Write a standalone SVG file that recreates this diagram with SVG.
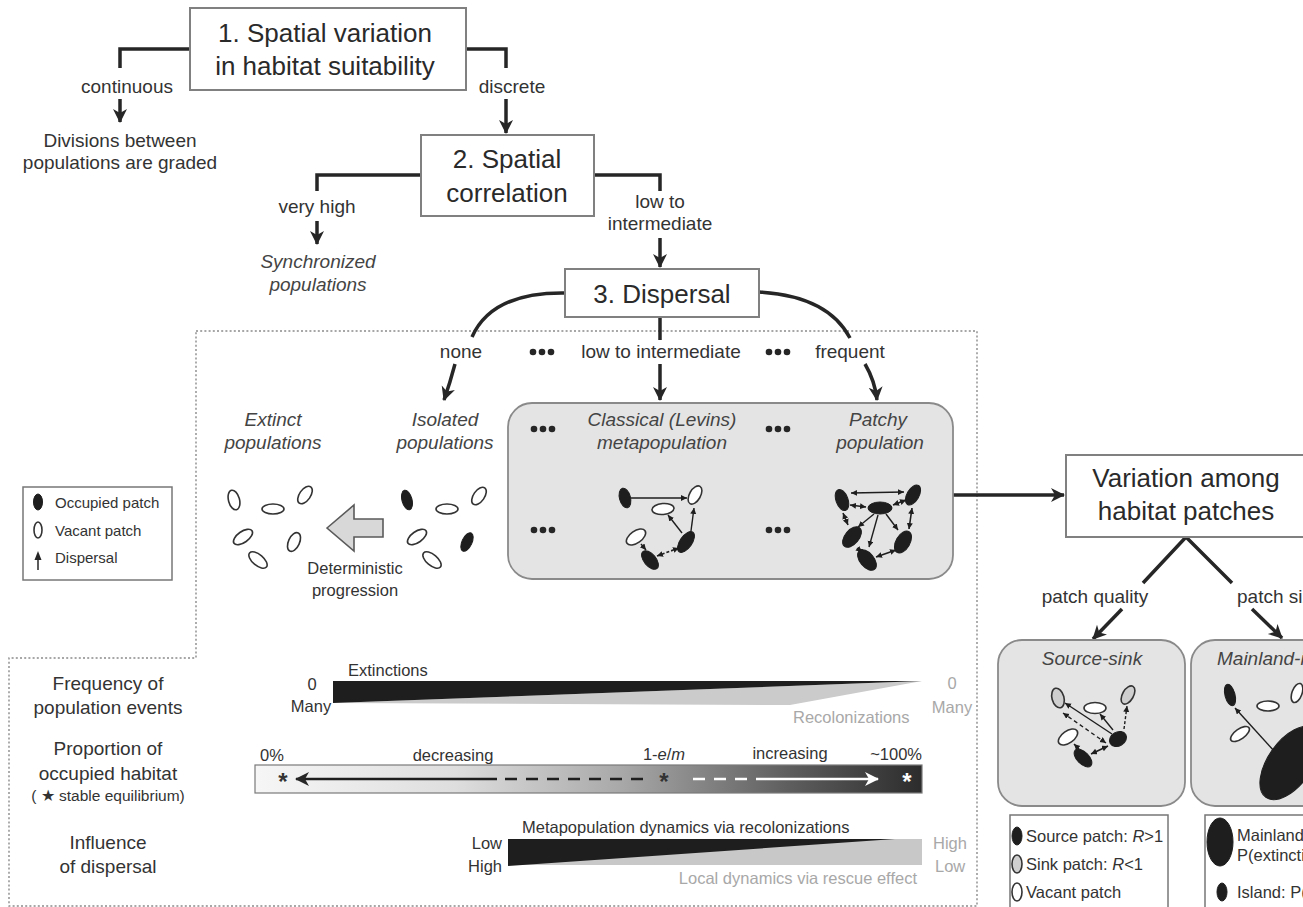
<svg xmlns="http://www.w3.org/2000/svg" width="1303" height="907" viewBox="0 0 1303 907">
  <defs>
    <marker id="ah" markerUnits="userSpaceOnUse" markerWidth="16" markerHeight="16" refX="13" refY="7" orient="auto">
      <path d="M0,0 L14,7 L0,14 L4,7 z" fill="#262626"/>
    </marker>
    <marker id="sm" markerUnits="userSpaceOnUse" markerWidth="8" markerHeight="8" refX="6" refY="3" orient="auto-start-reverse">
      <path d="M0,0 L6,3 L0,6 z" fill="#1e1e1e"/>
    </marker>
    <marker id="wh" markerUnits="userSpaceOnUse" markerWidth="16" markerHeight="16" refX="13" refY="7" orient="auto">
      <path d="M0,0 L14,7 L0,14 L4,7 z" fill="#ffffff"/>
    </marker>
    <linearGradient id="occ" x1="0" y1="0" x2="1" y2="0">
      <stop offset="0" stop-color="#f6f6f6"/>
      <stop offset="0.3" stop-color="#dedede"/>
      <stop offset="0.55" stop-color="#a8a8a8"/>
      <stop offset="0.8" stop-color="#5e5e5e"/>
      <stop offset="1" stop-color="#2c2c2c"/>
    </linearGradient>
  </defs>
  <style>
    text { font-family: "Liberation Sans", Arial, sans-serif; fill: #333; }
    .t26 { font-size: 26px; text-anchor: middle; fill: #2a2a2a; }
    .lab { font-size: 19px; text-anchor: middle; }
    .it { font-size: 19px; font-style: italic; text-anchor: middle; fill: #444; }
    .sm { font-size: 15px; }
    .bar { font-size: 16.5px; }
    .pale { fill: #a8a8a8; }
    .box { fill: #fff; stroke: #808080; stroke-width: 2; }
    .gbox { fill: #e4e4e4; stroke: #8a8a8a; stroke-width: 1.8; }
    .leg { fill: #fff; stroke: #777; stroke-width: 1.5; }
    .conn { fill: none; stroke: #262626; stroke-width: 3.5; }
    .arr { fill: none; stroke: #262626; stroke-width: 3.5; marker-end: url(#ah); }
    .dot { fill: none; stroke: #8a8a8a; stroke-width: 1.4; stroke-dasharray: 2 2.2; }
    .full { fill: #1e1e1e; stroke: #1e1e1e; stroke-width: 1; }
    .open { fill: #fff; stroke: #333; stroke-width: 1.6; }
    .sink { fill: #cfcfcf; stroke: #333; stroke-width: 1.6; }
    .thin { fill: none; stroke: #1e1e1e; stroke-width: 1.4; marker-end: url(#sm); }
    .both { fill: none; stroke: #1e1e1e; stroke-width: 1.6; marker-start: url(#sm); marker-end: url(#sm); }
    .dots circle { fill: #262626; }
  </style>

  <!-- dotted frame around the dispersal section -->
  <path class="dot" d="M196,331 H977 V906 H9 V658 H196 Z"/>

  <!-- connectors -->
  <g id="connectors">
    <path class="conn" d="M190,49 H120 V68"/>
    <path class="arr" d="M120,99 V122"/>
    <path class="conn" d="M466,49 H506 V68"/>
    <path class="arr" d="M506,99 V133"/>
    <path class="conn" d="M421,175 H317 V191"/>
    <path class="arr" d="M317,221 V244"/>
    <path class="conn" d="M594,175 H660 V191"/>
    <path class="arr" d="M660,238 V267"/>
    <path class="conn" d="M565,293 Q492,292 472,337"/>
    <path class="arr" d="M455,364 Q450,383 444,400"/>
    <path class="conn" d="M660,317 V340"/>
    <path class="arr" d="M660,364 V400"/>
    <path class="conn" d="M759,292 Q828,296 850,338"/>
    <path class="arr" d="M865,364 Q875,381 877,400"/>
    <path class="arr" d="M953,495 H1064"/>
    <path class="conn" d="M1143,583 L1186,537 L1232,583"/>
    <path class="arr" d="M1122,609 L1093,639"/>
    <path class="arr" d="M1252,609 L1282,638"/>
  </g>

  <!-- edge labels -->
  <g id="edge-labels">
    <text class="lab" x="127" y="93">continuous</text>
    <text class="lab" x="512" y="93">discrete</text>
    <text class="lab" x="317" y="213">very high</text>
    <text class="lab" x="660" y="208">low to</text>
    <text class="lab" x="660" y="230">intermediate</text>
    <text class="lab" x="461" y="358">none</text>
    <text class="lab" x="661" y="358">low to intermediate</text>
    <text class="lab" x="850" y="358">frequent</text>
    <text class="lab" x="1095" y="603">patch quality</text>
    <text class="lab" x="1237" y="603" style="text-anchor:start">patch size</text>
    <g class="dots">
      <circle cx="533" cy="352" r="3.3"/><circle cx="542" cy="352" r="3.3"/><circle cx="551" cy="352" r="3.3"/>
      <circle cx="769" cy="352" r="3.3"/><circle cx="778" cy="352" r="3.3"/><circle cx="787" cy="352" r="3.3"/>
    </g>
  </g>

  <g id="node-spatial-variation">
    <rect class="box" x="190" y="8" width="276" height="82"/>
    <text class="t26" x="325" y="42">1. Spatial variation</text>
    <text class="t26" x="325" y="75">in habitat suitability</text>
  </g>

  <g id="node-graded">
    <text class="lab" x="120" y="147">Divisions between</text>
    <text class="lab" x="120" y="169">populations are graded</text>
  </g>

  <g id="node-spatial-correlation">
    <rect class="box" x="421" y="135" width="173" height="81"/>
    <text class="t26" x="507" y="168">2. Spatial</text>
    <text class="t26" x="507" y="202">correlation</text>
  </g>

  <g id="node-synchronized">
    <text class="it" x="318" y="268">Synchronized</text>
    <text class="it" x="318" y="291">populations</text>
  </g>

  <g id="node-dispersal">
    <rect class="box" x="565" y="269" width="194" height="48"/>
    <text class="t26" x="662" y="303">3. Dispersal</text>
  </g>

  <!-- legend for the patch symbols -->
  <g id="node-legend">
    <rect class="leg" x="23" y="487" width="149" height="93"/>
    <ellipse class="full" cx="38" cy="502" rx="4.5" ry="8"/>
    <text class="sm" x="55" y="508">Occupied patch</text>
    <ellipse class="open" cx="38" cy="530" rx="4" ry="8"/>
    <text class="sm" x="55" y="536">Vacant patch</text>
    <path d="M38,570 V557" stroke="#262626" stroke-width="1.5"/>
    <path d="M34.5,560 L38,551 L41.5,560 z" fill="#262626"/>
    <text class="sm" x="55" y="563">Dispersal</text>
  </g>

  <g id="node-extinct">
    <text class="it" x="273" y="426">Extinct</text>
    <text class="it" x="273" y="449">populations</text>
    <ellipse class="open" cx="234" cy="500" rx="5.5" ry="10" transform="rotate(-15 234 500)"/>
    <ellipse class="open" cx="273" cy="509" rx="11" ry="5"/>
    <ellipse class="open" cx="305" cy="495" rx="5.5" ry="10" transform="rotate(35 305 495)"/>
    <ellipse class="open" cx="243" cy="537" rx="11" ry="5.5" transform="rotate(-35 243 537)"/>
    <ellipse class="open" cx="294" cy="542" rx="5.5" ry="10" transform="rotate(25 294 542)"/>
    <ellipse class="open" cx="258" cy="560" rx="11" ry="5.5" transform="rotate(40 258 560)"/>
  </g>

  <g id="node-progression">
    <path d="M327,528 L354,505 L354,519 L383,519 L383,537 L354,537 L354,551 Z" fill="#d8d8d8" stroke="#5a5a5a" stroke-width="1.6"/>
    <text class="lab" x="355" y="574" style="font-size:16.5px">Deterministic</text>
    <text class="lab" x="355" y="596" style="font-size:16.5px">progression</text>
  </g>

  <g id="node-isolated">
    <text class="it" x="445" y="426">Isolated</text>
    <text class="it" x="445" y="449">populations</text>
    <ellipse class="full" cx="407" cy="500" rx="5" ry="10" transform="rotate(-15 407 500)"/>
    <ellipse class="open" cx="447" cy="509" rx="11" ry="5"/>
    <ellipse class="open" cx="479" cy="496" rx="5.5" ry="10" transform="rotate(35 479 496)"/>
    <ellipse class="open" cx="417" cy="537" rx="11" ry="5.5" transform="rotate(-35 417 537)"/>
    <ellipse class="full" cx="467" cy="542" rx="5" ry="10" transform="rotate(25 467 542)"/>
    <ellipse class="open" cx="432" cy="560" rx="11" ry="5.5" transform="rotate(40 432 560)"/>
  </g>

  <!-- classical and patchy structures share one shaded panel -->
  <g id="node-metapopulations">
    <rect class="gbox" x="508" y="403" width="445" height="176" rx="24"/>
    <g class="dots">
      <circle cx="534" cy="429" r="3.3"/><circle cx="543" cy="429" r="3.3"/><circle cx="552" cy="429" r="3.3"/>
      <circle cx="769" cy="429" r="3.3"/><circle cx="778" cy="429" r="3.3"/><circle cx="787" cy="429" r="3.3"/>
      <circle cx="534" cy="530" r="3.3"/><circle cx="543" cy="530" r="3.3"/><circle cx="552" cy="530" r="3.3"/>
      <circle cx="769" cy="530" r="3.3"/><circle cx="778" cy="530" r="3.3"/><circle cx="787" cy="530" r="3.3"/>
    </g>
    <text class="it" x="662" y="426">Classical (Levins)</text>
    <text class="it" x="662" y="449">metapopulation</text>
    <text class="it" x="878" y="426">Patchy</text>
    <text class="it" x="880" y="449">population</text>

    <!-- classical network -->
    <path class="thin" d="M631,498 H687"/>
    <path class="thin" d="M691,531 L694,508"/>
    <path class="thin" d="M682,533 L668,515"/>
    <path class="both" d="M657,556 L679,548" stroke-dasharray="3 2"/>
    <path class="thin" d="M641,544 L646,550"/>
    <ellipse class="full" cx="625" cy="498" rx="5.5" ry="10" transform="rotate(-15 625 498)"/>
    <ellipse class="open" cx="695" cy="495" rx="5.5" ry="10" transform="rotate(30 695 495)"/>
    <ellipse class="open" cx="663" cy="509" rx="11" ry="5.5" transform="rotate(-5 663 509)"/>
    <ellipse class="open" cx="636" cy="537" rx="11" ry="6" transform="rotate(-35 636 537)"/>
    <ellipse class="full" cx="686" cy="542" rx="6" ry="12" transform="rotate(35 686 542)"/>
    <ellipse class="full" cx="650" cy="560" rx="6" ry="11" transform="rotate(-40 650 560)"/>

    <!-- patchy network -->
    <path class="both" d="M851,493 L904,492"/>
    <path class="both" d="M850,505 L866,507"/>
    <path class="both" d="M893,505 L906,500"/>
    <path class="both" d="M843,513 L848,525"/>
    <path class="both" d="M912,508 L909,529"/>
    <path class="thin" d="M874,514 L858,527"/>
    <path class="thin" d="M878,515 L869,547"/>
    <path class="thin" d="M886,514 L898,530"/>
    <path class="both" d="M857,548 L862,552"/>
    <path class="both" d="M876,557 L896,550"/>
    <ellipse class="full" cx="842" cy="500" rx="6" ry="11" transform="rotate(-20 842 500)"/>
    <ellipse class="full" cx="913" cy="495" rx="6" ry="11" transform="rotate(30 913 495)"/>
    <ellipse class="full" cx="880" cy="508" rx="12" ry="6"/>
    <ellipse class="full" cx="852" cy="537" rx="7" ry="12" transform="rotate(40 852 537)"/>
    <ellipse class="full" cx="903" cy="542" rx="7" ry="12" transform="rotate(30 903 542)"/>
    <ellipse class="full" cx="867" cy="560" rx="7" ry="12" transform="rotate(-40 867 560)"/>
  </g>

  <g id="node-variation">
    <rect class="box" x="1066" y="455" width="260" height="82"/>
    <text class="t26" x="1186" y="487">Variation among</text>
    <text class="t26" x="1186" y="520">habitat patches</text>
  </g>

  <g id="node-source-sink">
    <rect class="gbox" x="998" y="640" width="187" height="166" rx="24"/>
    <text class="it" x="1092" y="665">Source-sink</text>
    <path class="thin" d="M1112,734 L1065,703"/>
    <path class="thin" d="M1106,743 L1063,713" stroke-dasharray="4 3" marker-end="none" marker-start="url(#sm)"/>
    <path class="thin" d="M1113,730 L1100,714"/>
    <path class="thin" d="M1124,729 L1127,706" stroke-dasharray="3 2"/>
    <path class="both" d="M1108,746 L1091,754"/>
    <path class="thin" d="M1079,749 L1074,744"/>
    <ellipse class="sink" cx="1058" cy="698" rx="6" ry="10" transform="rotate(-15 1058 698)"/>
    <ellipse class="open" cx="1095" cy="708" rx="11" ry="5.5"/>
    <ellipse class="sink" cx="1128" cy="695" rx="5.5" ry="10" transform="rotate(30 1128 695)"/>
    <ellipse class="open" cx="1068" cy="737" rx="11" ry="6" transform="rotate(-35 1068 737)"/>
    <ellipse class="full" cx="1118" cy="739" rx="9" ry="7" transform="rotate(-30 1118 739)"/>
    <ellipse class="full" cx="1083" cy="758" rx="6" ry="11" transform="rotate(-45 1083 758)"/>
  </g>

  <g id="node-source-legend">
    <rect class="leg" x="1010" y="815" width="158" height="100"/>
    <ellipse class="full" cx="1017" cy="836" rx="5" ry="9"/>
    <text class="bar" x="1026" y="842">Source patch: <tspan font-style="italic">R</tspan>&gt;1</text>
    <ellipse class="sink" cx="1017" cy="864" rx="5" ry="9"/>
    <text class="bar" x="1026" y="870">Sink patch: <tspan font-style="italic">R</tspan>&lt;1</text>
    <ellipse class="open" cx="1017" cy="892" rx="5" ry="9"/>
    <text class="bar" x="1026" y="898">Vacant patch</text>
  </g>

  <g id="node-mainland-island">
    <rect class="gbox" x="1191" y="640" width="160" height="166" rx="24"/>
    <text class="it" x="1217" y="665" style="text-anchor:start">Mainland-island</text>
    <path class="thin" d="M1275,752 L1235,708"/>
    <ellipse class="full" cx="1230" cy="695" rx="5" ry="11" transform="rotate(-15 1230 695)"/>
    <ellipse class="open" cx="1268" cy="706" rx="11" ry="5"/>
    <ellipse class="open" cx="1240" cy="734" rx="11" ry="5" transform="rotate(-35 1240 734)"/>
    <ellipse class="open" cx="1297" cy="693" rx="5" ry="10" transform="rotate(20 1297 693)"/>
    <ellipse class="full" cx="1290" cy="763" rx="22" ry="42" transform="rotate(35 1290 763)"/>
  </g>

  <g id="node-mainland-legend">
    <rect class="leg" x="1205" y="815" width="140" height="100"/>
    <ellipse class="full" cx="1220" cy="842" rx="13" ry="24"/>
    <text class="bar" x="1237" y="841">Mainland:</text>
    <text class="bar" x="1237" y="861">P(extinction)</text>
    <ellipse class="full" cx="1222" cy="892" rx="5" ry="9"/>
    <text class="bar" x="1237" y="898">Island: P(extinction)</text>
  </g>

  <!-- row: frequency of population events -->
  <g id="row-frequency">
    <text class="lab" x="108" y="690">Frequency of</text>
    <text class="lab" x="108" y="714">population events</text>
    <polygon points="333,703 922,681 790,705" fill="#cbcbcb"/>
    <polygon points="333,681 922,681 333,703" fill="#1e1e1e"/>
    <text class="bar" x="348" y="676">Extinctions</text>
    <text class="bar" x="312" y="690" text-anchor="middle">0</text>
    <text class="bar" x="311" y="712" text-anchor="middle">Many</text>
    <text class="bar pale" x="952" y="689" text-anchor="middle">0</text>
    <text class="bar pale" x="952" y="713" text-anchor="middle">Many</text>
    <text class="bar pale" x="793" y="723">Recolonizations</text>
  </g>

  <!-- row: proportion of occupied habitat -->
  <g id="row-occupancy">
    <text class="lab" x="108" y="755">Proportion of</text>
    <text class="lab" x="108" y="780">occupied habitat</text>
    <text class="lab" x="108" y="801" style="font-size:15.5px">( ★ stable equilibrium)</text>
    <rect x="255" y="765" width="667" height="28" fill="url(#occ)" stroke="#7a7a7a" stroke-width="1.2"/>
    <path d="M497,779 H296" stroke="#1e1e1e" stroke-width="2.5" fill="none" marker-end="url(#ah)"/>
    <path d="M505,779 H646" stroke="#1e1e1e" stroke-width="2.5" stroke-dasharray="12 9"/>
    <path d="M693,779 H768" stroke="#fff" stroke-width="2.5" stroke-dasharray="12 9"/>
    <path d="M768,779 H878" stroke="#fff" stroke-width="2.5" fill="none" marker-end="url(#wh)"/>
    <text x="283" y="790" font-size="24" font-weight="bold" text-anchor="middle" fill="#1e1e1e">*</text>
    <text x="664" y="790" font-size="24" font-weight="bold" text-anchor="middle" fill="#1e1e1e">*</text>
    <text x="907" y="790" font-size="24" font-weight="bold" text-anchor="middle" style="fill:#fff">*</text>
    <text class="bar" x="260" y="761">0%</text>
    <text class="bar" x="453" y="761" text-anchor="middle">decreasing</text>
    <text class="bar" x="664" y="760" text-anchor="middle">1-<tspan font-style="italic">e</tspan>/<tspan font-style="italic">m</tspan></text>
    <text class="bar" x="790" y="759" text-anchor="middle">increasing</text>
    <text class="bar" x="922" y="760" text-anchor="end">~100%</text>
  </g>

  <!-- row: influence of dispersal -->
  <g id="row-influence">
    <text class="lab" x="108" y="849">Influence</text>
    <text class="lab" x="108" y="873">of dispersal</text>
    <rect x="508" y="839" width="414" height="26" fill="#c8c8c8"/>
    <polygon points="508,839 895,839 508,866" fill="#1e1e1e"/>
    <text class="bar" x="522" y="833">Metapopulation dynamics via recolonizations</text>
    <text class="bar pale" x="917" y="884" text-anchor="end">Local dynamics via rescue effect</text>
    <text class="bar" x="502" y="849" text-anchor="end">Low</text>
    <text class="bar" x="502" y="872" text-anchor="end">High</text>
    <text class="bar pale" x="933" y="849">High</text>
    <text class="bar pale" x="935" y="872">Low</text>
  </g>
</svg>
